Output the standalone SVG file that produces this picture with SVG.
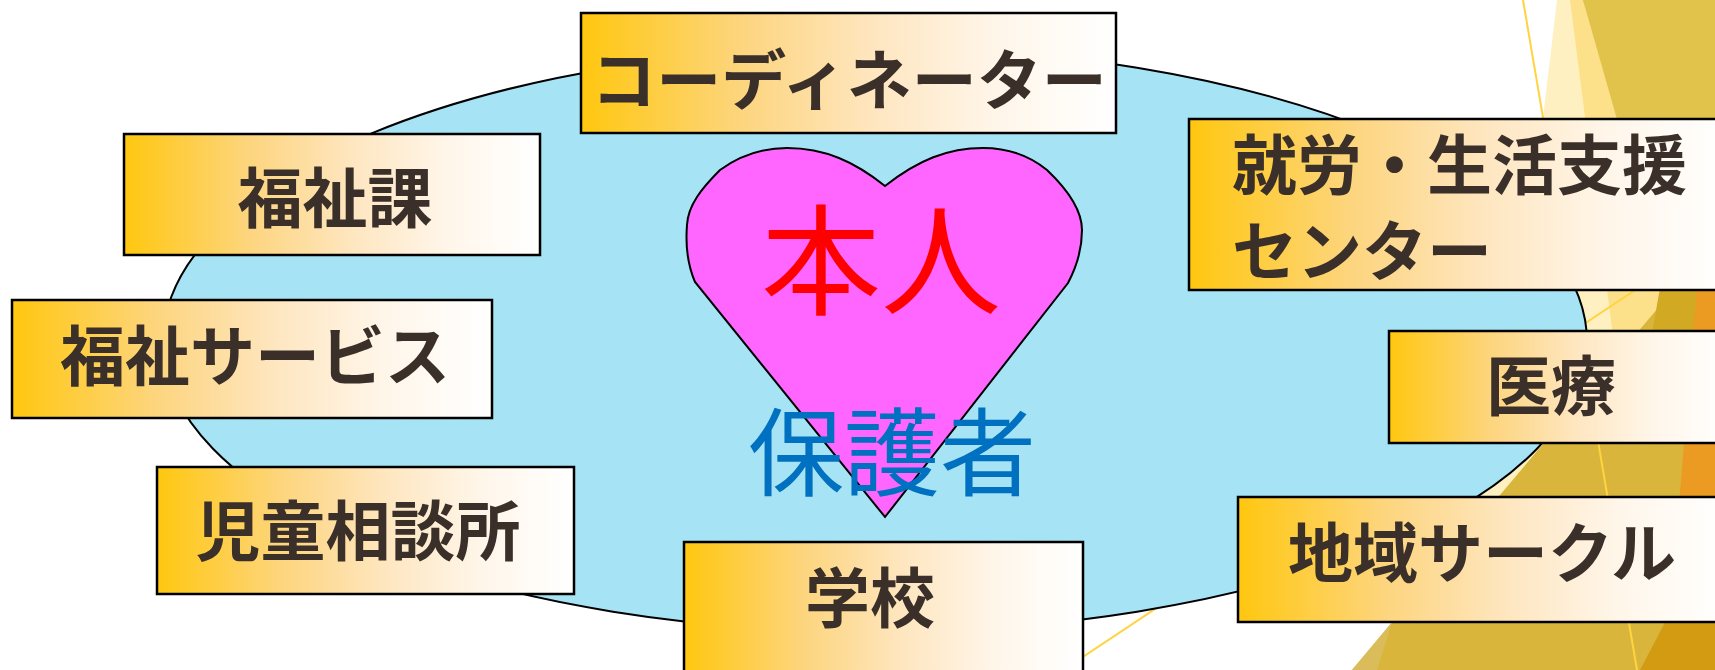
<svg xmlns="http://www.w3.org/2000/svg" width="1715" height="670" viewBox="0 0 1715 670">
<defs>
<linearGradient id="boxg" x1="0" y1="0" x2="1" y2="0">
<stop offset="0" stop-color="#FFC70F"/>
<stop offset="0.3" stop-color="#FDD57E"/>
<stop offset="0.55" stop-color="#FEE6C0"/>
<stop offset="0.78" stop-color="#FFF6EA"/>
<stop offset="1" stop-color="#FFFFFF"/>
</linearGradient>
<style>
.box{fill:url(#boxg);stroke:#000;stroke-width:2.5}
.lbl{font-family:"Noto Sans CJK JP","Noto Sans CJK SC",sans-serif;font-weight:700;font-size:65px;fill:#3B3029}
.thin{fill:none;stroke:#FFD440;stroke-width:2}
</style>
</defs>
<rect width="1715" height="670" fill="#FFFFFF"/>
<g id="background">
<polygon points="1557,0 1583,0 1700,300 1500,560 1470,520 1543,118" fill="#FFF0C2"/>
<polygon points="1570,0 1583,0 1680,282 1616,360" fill="#FDE18A"/>
<polygon points="1583,0 1715,0 1715,670 1352,670 1680,282" fill="#D9B63B"/>
<polygon points="1583,0 1715,0 1715,200 1640,200" fill="#E1C24B"/>
<polygon points="1665,260 1705,260 1700,400 1640,400" fill="#D1A923"/>
<polygon points="1700,250 1715,250 1715,540 1676,540" fill="#EB9B22"/>
<polygon points="1640,670 1715,670 1715,527" fill="#D39B12"/>
<polygon points="1352,670 1377,670 1392,622" fill="#DABD5A"/>
<line class="thin" x1="1523" y1="0" x2="1637" y2="670"/>
<line class="thin" x1="1000" y1="712" x2="1715" y2="237"/>
</g>
<g id="circle">
<path d="M163,342 A712,295 0 0 1 1587,342 A712,290 0 0 1 163,342 Z" fill="#A6E4F5" stroke="#000" stroke-width="2"/>
</g>
<g id="heart">
<path d="M885,186 C855,162 825,148 787,148 C760,148 738,157 720,170 C702,188 688,205 687,225 C685,250 689,268 695,282 L885,517 L1068,283 C1077,266 1082,250 1082,230 C1082,210 1068,190 1047,170 C1030,156 1010,148 983,148 C948,148 918,160 885,186 Z" fill="#FF66FF" stroke="#000" stroke-width="2"/>
<text x="881" y="306" text-anchor="middle" font-family="'Noto Sans CJK JP','Noto Sans CJK SC',sans-serif" font-size="120" fill="#FF0000">本人</text>
<text x="892" y="488" text-anchor="middle" font-family="'Noto Sans CJK JP','Noto Sans CJK SC',sans-serif" font-size="96" fill="#0070C0">保護者</text>
</g>
<g id="coordinator">
<rect class="box" x="581" y="13" width="535" height="120"/>
<text class="lbl" x="849" y="104" text-anchor="middle">コーディネーター</text>
</g>
<g id="fukushika">
<rect class="box" x="124" y="134" width="416" height="121"/>
<text class="lbl" x="335" y="222" text-anchor="middle">福祉課</text>
</g>
<g id="fukushi-service">
<rect class="box" x="12" y="300" width="480" height="118"/>
<text class="lbl" x="255" y="380" text-anchor="middle">福祉サービス</text>
</g>
<g id="jido-sodanjo">
<rect class="box" x="157" y="467" width="417" height="127"/>
<text class="lbl" x="358" y="555" text-anchor="middle">児童相談所</text>
</g>
<g id="gakko">
<rect class="box" x="684" y="542" width="399" height="140"/>
<text class="lbl" x="870" y="622" text-anchor="middle">学校</text>
</g>
<g id="shuro-center">
<rect class="box" x="1189" y="119" width="540" height="171"/>
<text class="lbl" x="1232" y="189">就労・生活支援</text>
<text class="lbl" x="1232" y="275">センター</text>
</g>
<g id="iryo">
<rect class="box" x="1389" y="331" width="340" height="112"/>
<text class="lbl" x="1551" y="410" text-anchor="middle">医療</text>
</g>
<g id="chiiki-circle">
<rect class="box" x="1238" y="497" width="490" height="125"/>
<text class="lbl" x="1482" y="577" text-anchor="middle">地域サークル</text>
</g>
</svg>
